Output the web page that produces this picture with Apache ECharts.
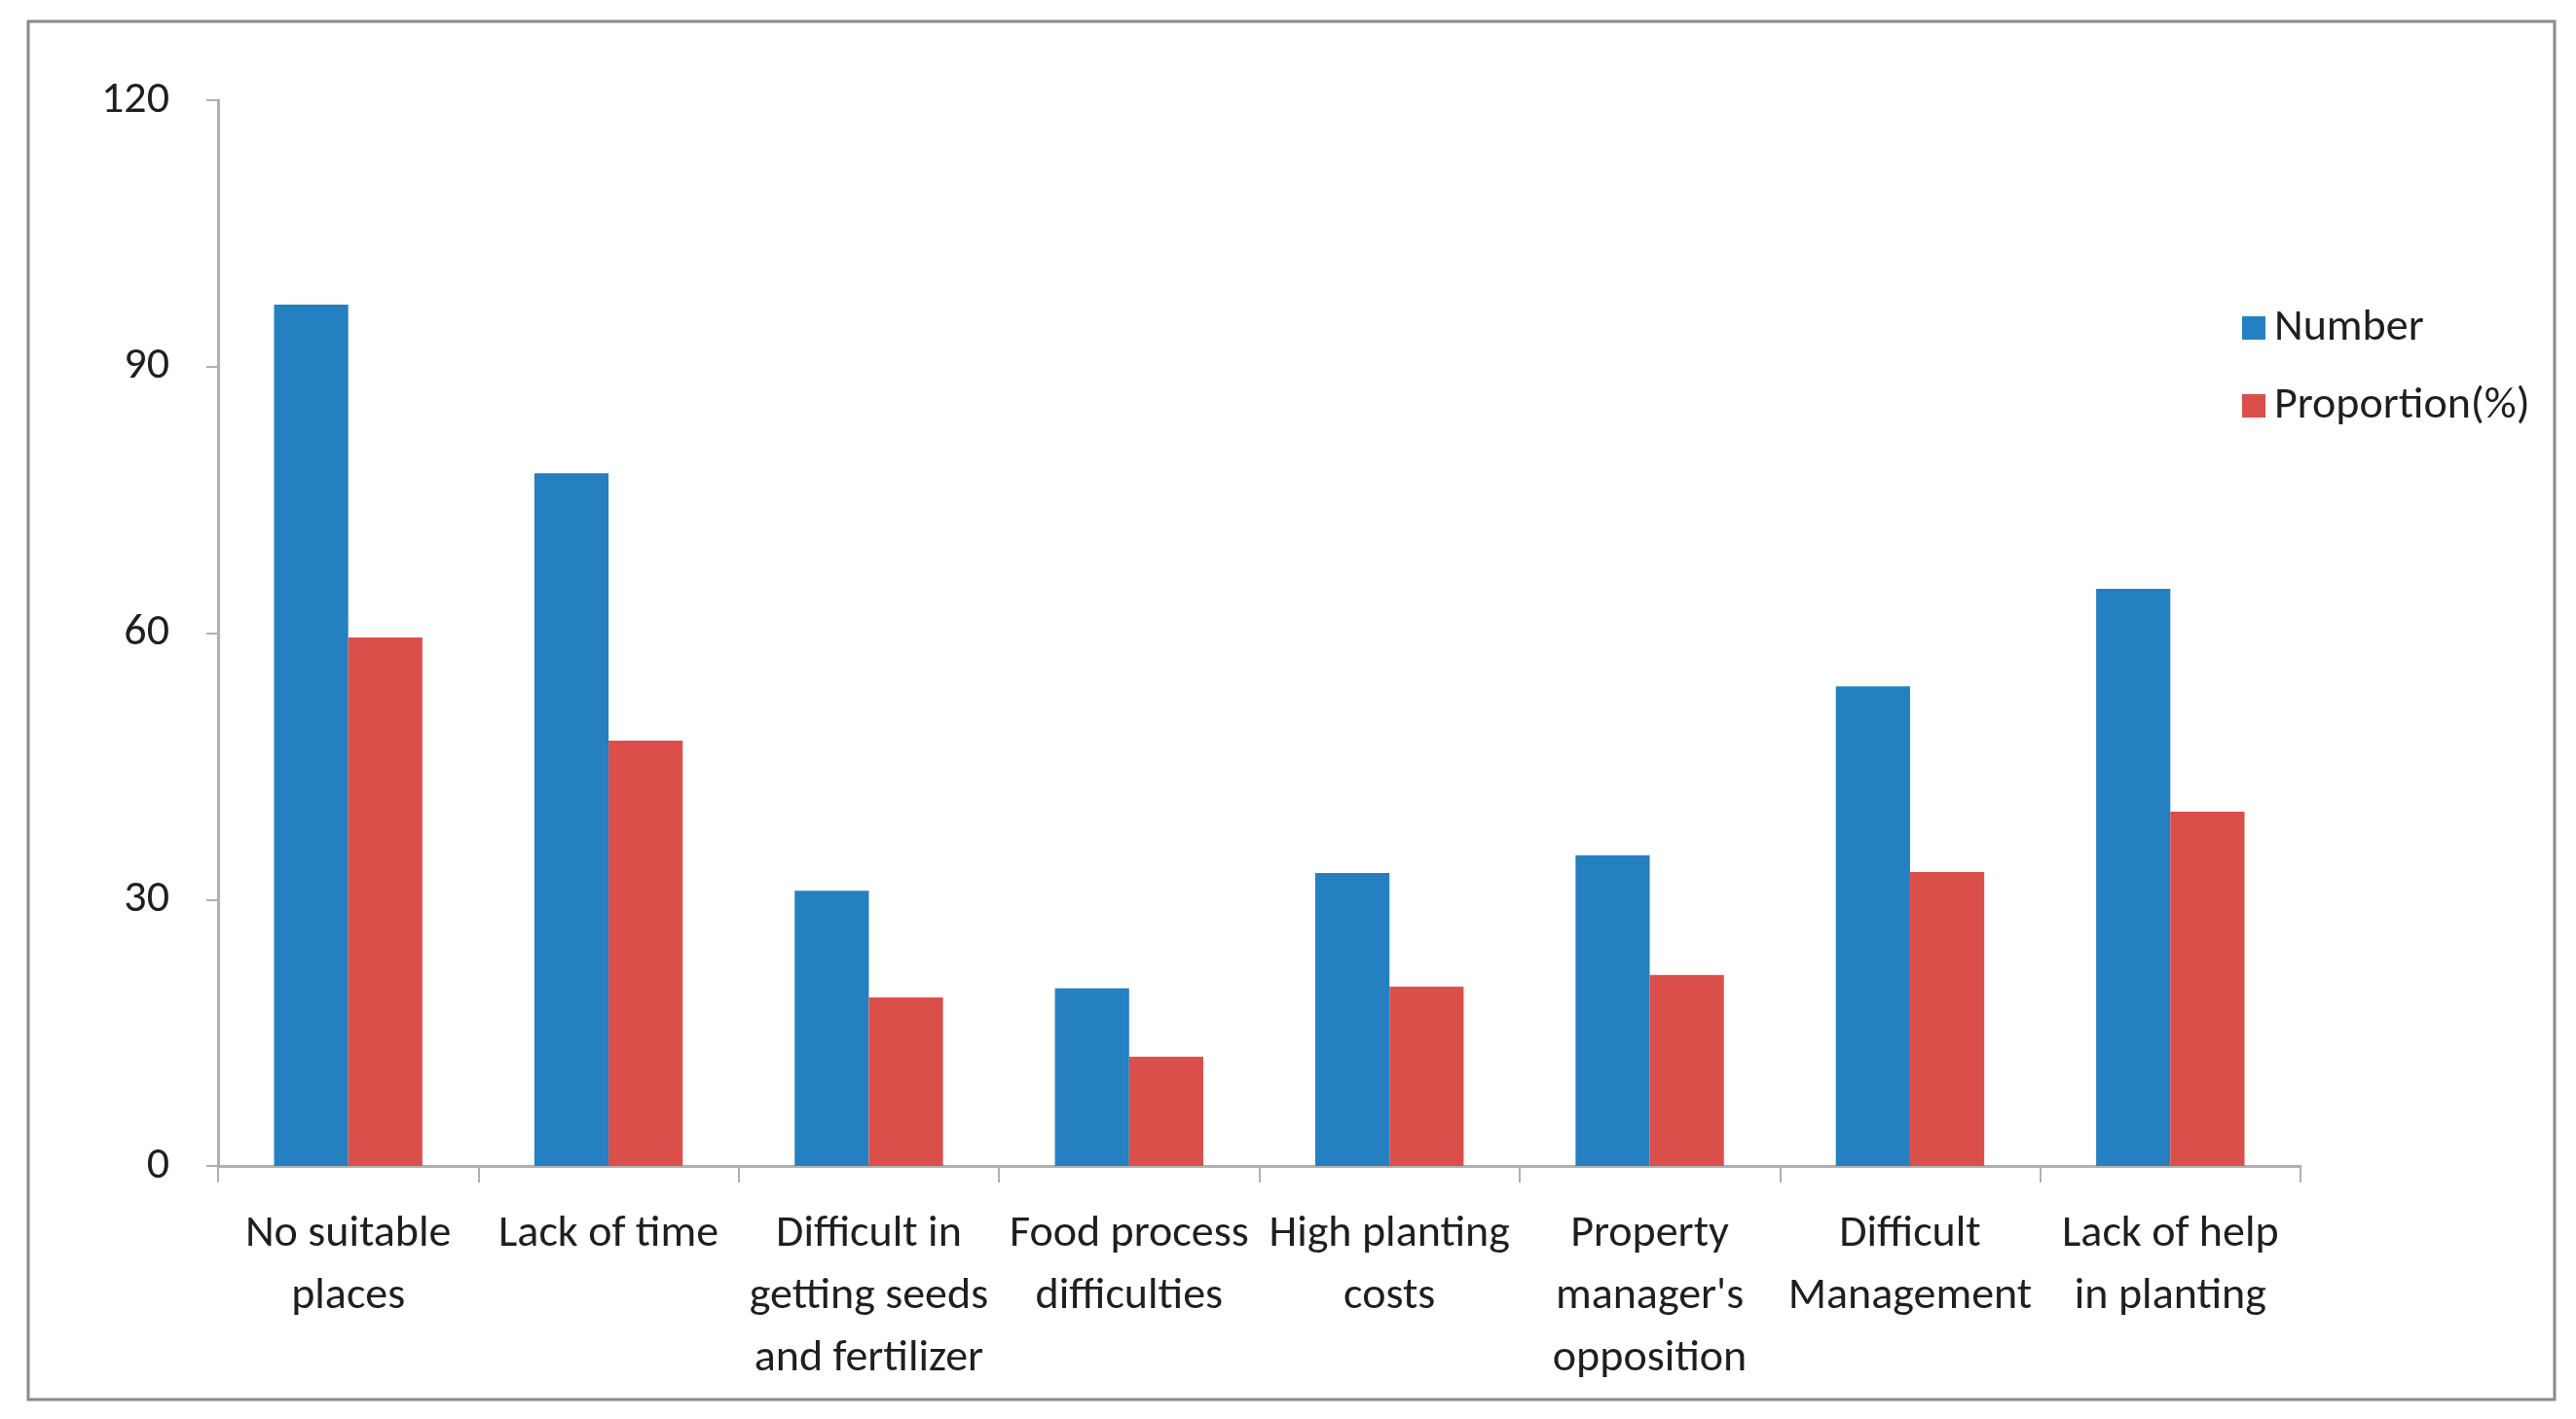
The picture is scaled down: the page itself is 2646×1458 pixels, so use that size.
<!DOCTYPE html>
<html>
<head>
<meta charset="utf-8">
<script src="https://cdn.jsdelivr.net/npm/echarts@6/dist/echarts.min.js"></script>
<style>
html,body{margin:0;padding:0;background:#fff;}
#chart{width:2646px;height:1458px;}
</style>
</head>
<body>
<div id="chart"></div>
<script>
const categories = [
  "No suitable\nplaces",
  "Lack of time",
  "Difficult in\ngetting seeds\nand fertilizer",
  "Food process\ndifficulties",
  "High planting\ncosts",
  "Property\nmanager's\nopposition",
  "Difficult\nManagement",
  "Lack of help\nin planting"
];
const numberValues = [97, 78, 31, 20, 33, 35, 54, 65];
const proportionValues = [59.5, 47.9, 19.0, 12.3, 20.2, 21.5, 33.1, 39.9];
const yTicks = [0, 30, 60, 90, 120];

const FONT = "'Carlito', 'DejaVu Sans Condensed', sans-serif";
const FS = 46;
const chart = echarts.init(document.getElementById('chart'));
chart.setOption({
  backgroundColor: '#ffffff',
  animation: false,
  graphic: [{
    type: 'rect',
    shape: {x: 29, y: 22, width: 2595, height: 1416},
    style: {fill: 'none', stroke: '#8a8a8a', lineWidth: 3},
    silent: true
  }],
  grid: {left: 224, right: 2646 - 2363, top: 103, bottom: 1458 - 1198, containLabel: false},
  legend: {
    orient: 'vertical',
    left: 2298,
    top: 307,
    itemWidth: 24,
    itemHeight: 24,
    itemGap: 30,
    icon: 'rect',
    textStyle: {fontFamily: FONT, fontSize: FS, color: '#1f1f1f', lineHeight: 50, padding: [0, 0, 0, 4]},
    data: ['Number', 'Proportion(%)']
  },
  xAxis: {
    type: 'category',
    data: categories,
    axisLine: {lineStyle: {color: '#b0b0b0', width: 3}},
    axisTick: {show: true, length: 17, lineStyle: {color: '#b0b0b0', width: 2}},
    axisLabel: {interval: 0, fontFamily: FONT, fontSize: FS, color: '#1f1f1f', lineHeight: 64, margin: 38}
  },
  yAxis: {
    type: 'value',
    min: yTicks[0],
    max: yTicks[yTicks.length - 1],
    interval: 30,
    splitLine: {show: false},
    axisLine: {show: true, lineStyle: {color: '#b0b0b0', width: 3}},
    axisTick: {show: true, length: 12, lineStyle: {color: '#b0b0b0', width: 2}},
    axisLabel: {fontFamily: FONT, fontSize: FS, color: '#1f1f1f', margin: 50}
  },
  series: [
    {name: 'Number', type: 'bar', data: numberValues, barGap: '0%', barCategoryGap: '43%',
     itemStyle: {color: '#2480c1'}},
    {name: 'Proportion(%)', type: 'bar', data: proportionValues, barGap: '0%', barCategoryGap: '43%',
     itemStyle: {color: '#db4f4b'}}
  ]
});
</script>
</body>
</html>
